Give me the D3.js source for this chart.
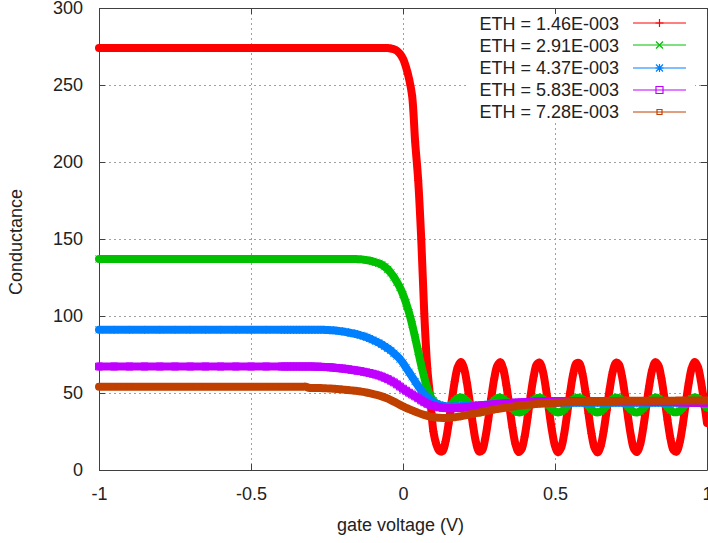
<!DOCTYPE html>
<html><head><meta charset="utf-8">
<script src="https://cdn.jsdelivr.net/npm/d3@7"></script>
<style>
body{margin:0;background:#fff;}
svg{display:block;font-family:"Liberation Sans",Arial,sans-serif;}
</style></head><body>
<svg id="chart" width="708" height="543"></svg>
<script>
// ---------- DATA ----------
const gateVoltage = [
-1,-0.95,-0.9,-0.85,-0.8,-0.75,-0.7,-0.65,-0.6,-0.55,-0.5,-0.45,
-0.40,-0.39,-0.38,-0.37,-0.36,-0.35,-0.34,-0.33,-0.32,-0.31,
-0.30,-0.29,-0.28,-0.27,-0.26,-0.25,-0.24,-0.23,-0.22,-0.21,
-0.20,-0.19,-0.18,-0.17,-0.16,-0.15,-0.14,-0.13,-0.12,-0.11,
-0.10,-0.09,-0.08,-0.07,-0.06,-0.05,-0.04,-0.03,-0.02,-0.01,
0.00,0.01,0.02,0.03,0.04,0.05,0.06,0.07,0.08,0.09,
0.10,0.11,0.12,0.13,0.14,0.15,0.16,0.17,0.18,0.19,
0.20,0.21,0.22,0.23,0.24,0.25,0.26,0.27,0.28,0.29,
0.30,0.31,0.32,0.33,0.34,0.35,0.36,0.37,0.38,0.39,
0.40,0.41,0.42,0.43,0.44,0.45,0.46,0.47,0.48,0.49,
0.50,0.51,0.52,0.53,0.54,0.55,0.56,0.57,0.58,0.59,
0.60,0.61,0.62,0.63,0.64,0.65,0.66,0.67,0.68,0.69,
0.70,0.71,0.72,0.73,0.74,0.75,0.76,0.77,0.78,0.79,
0.80,0.81,0.82,0.83,0.84,0.85,0.86,0.87,0.88,0.89,
0.90,0.91,0.92,0.93,0.94,0.95,0.96,0.97,0.98,0.99,
1.00];

const seriesLabels = ["ETH = 1.46E-003","ETH = 2.91E-003","ETH = 4.37E-003","ETH = 5.83E-003","ETH = 7.28E-003"];

const eth1 = [
274,274,274,274,274,274,274,274,274,274,274,274,
274,274,274,274,274,274,274,274,274,274,
274,274,274,274,274,274,274,274,274,274,
274,274,274,274,274,274,274,274,274,274,
274,274,274,274,274,274,273.7,273.2,272.3,270.3,
267,261.5,254,243,213,188,150,101.5,66,46,
25,16.5,12.4,12.2,18.5,30.0,44.1,57.4,66.8,70.1,
66.5,56.9,43.5,29.5,18.1,12.1,12.7,20.0,32.1,46.3,
59.2,67.7,70.0,65.4,55.0,41.3,27.5,16.8,11.7,13.5,
21.6,34.3,48.5,60.9,68.5,69.7,64.1,53.0,39.1,25.6,
15.6,11.5,14.3,23.3,36.5,50.6,62.4,69.2,69.3,62.7,
51.0,36.9,23.7,14.5,11.5,15.4,25.2,38.7,52.6,63.8,
69.6,68.7,61.2,48.9,34.7,22.0,13.6,11.7,16.5,27.1,
40.9,54.6,65.1,70.0,67.9,59.5,46.7,32.6,20.3,12.9,
12.0,17.8,29.1,43.1,56.5,66.3,70.1,67.0,57.8,44.6,
30.5];

const eth2 = [
137,137,137,137,137,137,137,137,137,137,137,137,
137,137,137,137,137,137,137,137,137,137,
137,137,137,137,137,137,137,137,137,137,
137,137,137,137,137,136.9,136.8,136.6,136.3,136.0,
135.5,134.9,134.2,133.3,132.0,130.3,128.0,125.3,122.0,118.5,
114,108.5,102,94.5,86,77,68,60,53,48,
45,43,41.7,40.8,40.4,41.0,42.7,44.9,46.5,47.0,
46.4,44.8,42.6,40.3,38.5,37.5,37.6,38.8,40.8,43.1,
45.2,46.6,47.0,46.2,44.5,42.3,40.0,38.3,37.4,37.7,
39.1,41.1,43.5,45.5,46.7,46.9,46.0,44.2,41.9,39.7,
38.1,37.4,37.9,39.3,41.5,43.8,45.7,46.8,46.9,45.8,
43.9,41.6,39.4,37.9,37.4,38.0,39.6,41.8,44.1,46.0,
46.9,46.8,45.5,43.5,41.2,39.1,37.7,37.4,38.2,40.0,
42.2,44.5,46.2,47.0,46.6,45.3,43.2,40.9,38.8,37.6,
37.5,38.4,40.3,42.6,44.8,46.4,47.0,46.5,45.0,42.8,
40.5];

const eth3 = [
91,91,91,91,91,91,91,91,91,91,91,91,
91,91,91,91,91,91,91,91,91,91,
91,91,91,91,91,90.9,90.8,90.7,90.5,90.3,
90.0,89.7,89.3,88.9,88.5,88.0,87.5,86.9,86.2,85.4,
84.5,83.6,82.6,81.5,80.3,79.0,77.6,75.8,74.0,72.0,
69.5,66.5,63.5,60.5,57.5,54.5,51.7,49.2,47.2,45.5,
44.0,43.0,42.3,41.8,41.5,41.3,41.3,41.3,41.4,41.5,
41.6,41.7,41.8,41.9,42.0,42.1,42.2,42.3,42.4,42.5,
42.6,42.7,42.8,42.8,42.9,43.0,43.0,43.1,43.1,43.2,
43.2,43.3,43.3,43.3,43.4,43.4,43.4,43.5,43.5,43.5,
43.5,43.6,43.6,43.6,43.6,43.6,43.6,43.6,43.6,43.6,
43.6,43.6,43.6,43.6,43.6,43.6,43.6,43.6,43.6,43.6,
43.6,43.6,43.6,43.6,43.6,43.6,43.6,43.6,43.6,43.6,
43.6,43.6,43.6,43.6,43.6,43.6,43.6,43.6,43.6,43.6,
43.6,43.6,43.6,43.6,43.6,43.6,43.6,43.6,43.6,43.6,
43.6];

const eth4 = [
67.2,67.2,67.2,67.2,67.2,67.2,67.2,67.2,67.2,67.2,67.2,67.2,
67.2,67.2,67.2,67.2,67.2,67.2,67.2,67.2,67.2,67.2,
67.2,67.1,67.1,67.0,66.9,66.8,66.7,66.5,66.3,66.1,
65.9,65.7,65.4,65.1,64.8,64.5,64.2,63.8,63.4,63.0,
62.5,62.0,61.4,60.7,59.9,59.0,58.0,56.9,55.6,54.2,
52.8,51.5,50.2,49.0,47.8,46.6,45.2,44.0,43.0,42.2,
41.6,41.1,40.7,40.4,40.2,40.1,40.1,40.2,40.3,40.4,
40.6,40.8,41.0,41.2,41.4,41.6,41.8,42.0,42.2,42.4,
42.6,42.8,43.0,43.1,43.3,43.4,43.6,43.7,43.8,43.9,
44.0,44.1,44.2,44.3,44.4,44.4,44.5,44.5,44.6,44.6,
44.7,44.7,44.7,44.7,44.7,44.7,44.7,44.7,44.7,44.7,
44.7,44.7,44.7,44.7,44.7,44.7,44.7,44.7,44.7,44.7,
44.7,44.7,44.7,44.7,44.7,44.7,44.7,44.7,44.7,44.7,
44.6,44.6,44.5,44.5,44.4,44.4,44.3,44.3,44.2,44.1,
44.1,44.0,44.0,43.9,43.9,43.8,43.8,43.7,43.7,43.6,
43.6];

const eth5 = [
54.1,54.1,54.1,54.1,54.1,54.1,54.1,54.1,54.1,54.1,54.1,54.1,
54.1,54.1,54.1,54.1,54.1,54.1,54.1,54.1,54.1,53.4,
53.3,53.3,53.2,53.2,53.1,53.0,52.9,52.8,52.6,52.5,
52.3,52.1,51.9,51.7,51.5,51.3,51.0,50.7,50.3,49.9,
49.4,48.9,48.4,47.8,47.1,46.3,45.4,44.4,43.4,42.3,
41.3,40.4,39.5,38.7,37.9,37.1,36.4,35.8,35.2,34.7,
34.4,34.1,33.9,33.8,33.8,33.9,34.1,34.3,34.6,34.9,
35.3,35.7,36.1,36.5,36.9,37.3,37.7,38.1,38.5,38.9,
39.3,39.6,39.9,40.2,40.5,40.8,41.1,41.4,41.7,41.9,
42.1,42.3,42.5,42.7,42.9,43.0,43.2,43.3,43.4,43.5,
43.6,43.7,43.8,43.9,44.0,44.1,44.2,44.3,44.4,44.4,
44.5,44.5,44.6,44.6,44.6,44.7,44.7,44.7,44.8,44.8,
44.8,44.9,44.9,44.9,44.9,44.9,44.9,44.9,44.9,44.9,
45.0,45.0,45.0,45.0,45.0,45.0,45.0,45.0,45.0,45.0,
45.1,45.1,45.1,45.1,45.1,45.1,45.1,45.1,45.1,45.1,
45.2];

const xTickValues = [-1,-0.5,0,0.5,1];
const xTickLabels = ["-1","-0.5","0","0.5","1"];
const yTickValues = [0,50,100,150,200,250,300];
const yTickLabels = ["0","50","100","150","200","250","300"];

// ---------- STYLE / LAYOUT ----------
const seriesValues = [eth1, eth2, eth3, eth4, eth5];
const colors = ["#ff0000","#00c000","#0080ff","#c000ff","#c04000"];
const markers = ["plus","cross","star","square","box"];
const L = 99, R = 707, T = 8, B = 470;
const FONT = 18;

const svg = d3.select("#chart");
const x = d3.scaleLinear().domain([-1, 1]).range([L, R]);
const y = d3.scaleLinear().domain([0, 300]).range([B, T]);

// grid
const grid = svg.append("g").attr("stroke", "#a0a0a0").attr("stroke-width", 1).attr("stroke-dasharray", "2,3");
xTickValues.slice(1, -1).forEach(v => {
  const px = Math.round(x(v)) + 0.5;
  grid.append("line").attr("x1", px).attr("x2", px).attr("y1", T).attr("y2", B);
});
yTickValues.slice(1, -1).forEach(v => {
  const py = Math.round(y(v)) + 0.5;
  grid.append("line").attr("x1", L).attr("x2", R).attr("y1", py).attr("y2", py);
});

// legend background (opaque key)
svg.append("rect").attr("x", 466).attr("y", 9).attr("width", 229).attr("height", 113).attr("fill", "#fff");

// axes
function styleAxis(g) {
  g.attr("font-size", FONT).attr("font-family", '"Liberation Sans",Arial,sans-serif');
  g.selectAll("path,line").attr("stroke", "#404040");
  g.selectAll("text").attr("fill", "#222");
}
svg.append("g").attr("transform", `translate(0,${B})`)
  .call(d3.axisBottom(x).tickValues(xTickValues).tickFormat((d, i) => xTickLabels[i]).tickSize(-6).tickSizeOuter(0).tickPadding(17))
  .call(styleAxis);
svg.append("g").attr("transform", `translate(${L},0)`)
  .call(d3.axisLeft(y).tickValues(yTickValues).tickFormat((d, i) => yTickLabels[i]).tickSize(-6).tickSizeOuter(0).tickPadding(16))
  .call(styleAxis);
svg.append("g").attr("transform", `translate(0,${T})`)
  .call(d3.axisTop(x).tickValues(xTickValues).tickFormat(() => "").tickSize(-6).tickSizeOuter(0))
  .call(styleAxis);
svg.append("g").attr("transform", `translate(${R},0)`)
  .call(d3.axisRight(y).tickValues(yTickValues).tickFormat(() => "").tickSize(-6).tickSizeOuter(0))
  .call(styleAxis);

// markers
function markerPath(type, cx, cy) {
  const s = 4, c = 3.5;
  if (type === "plus") return `M${cx - s},${cy}H${cx + s}M${cx},${cy - s}V${cy + s}`;
  if (type === "cross") return `M${cx - c},${cy - c}L${cx + c},${cy + c}M${cx - c},${cy + c}L${cx + c},${cy - c}`;
  if (type === "star") return `M${cx - s},${cy}H${cx + s}M${cx},${cy - s}V${cy + s}M${cx - c},${cy - c}L${cx + c},${cy + c}M${cx - c},${cy + c}L${cx + c},${cy - c}`;
  if (type === "square") return `M${cx - 3.5},${cy - 3.5}h7v7h-7Z`;
  return `M${cx - 2.5},${cy - 2.5}h5v5h-5Z`;
}

// series
seriesValues.forEach((vals, si) => {
  const g = svg.append("g");
  const line = d3.line()
    .x((d, i) => x(gateVoltage[i]))
    .y(d => y(d))
    .curve(d3.curveCatmullRom.alpha(0.5));
  g.append("path").datum(vals).attr("d", line)
    .attr("fill", "none").attr("stroke", colors[si]).attr("stroke-width", 8)
    .attr("stroke-linejoin", "round").attr("stroke-linecap", "round");
  g.selectAll("path.mk").data(vals).enter().append("path").attr("class", "mk")
    .attr("d", (d, i) => markerPath(markers[si], x(gateVoltage[i]), y(d)))
    .attr("fill", "none").attr("stroke", colors[si]).attr("stroke-width", 1);
});

// legend
const lg = svg.append("g").attr("font-size", FONT).attr("fill", "#222");
seriesLabels.forEach((lab, i) => {
  const cy = 23.3 + i * 22.1;
  lg.append("text").attr("x", 619).attr("y", cy).attr("dy", "0.36em").attr("text-anchor", "end").text(lab);
  lg.append("line").attr("x1", 633).attr("x2", 686).attr("y1", Math.round(cy)).attr("y2", Math.round(cy))
    .attr("stroke", colors[i]).attr("stroke-width", 1);
  lg.append("path").attr("d", markerPath(markers[i], 659.5, Math.round(cy)))
    .attr("fill", "none").attr("stroke", colors[i]).attr("stroke-width", 1.2);
});

// axis titles
svg.append("text").attr("x", 400.5).attr("y", 531).attr("text-anchor", "middle")
  .attr("font-size", FONT).attr("fill", "#222").text("gate voltage (V)");
svg.append("text").attr("transform", "translate(22,242) rotate(-90)").attr("text-anchor", "middle")
  .attr("font-size", FONT).attr("fill", "#222").text("Conductance");
</script>
</body></html>
